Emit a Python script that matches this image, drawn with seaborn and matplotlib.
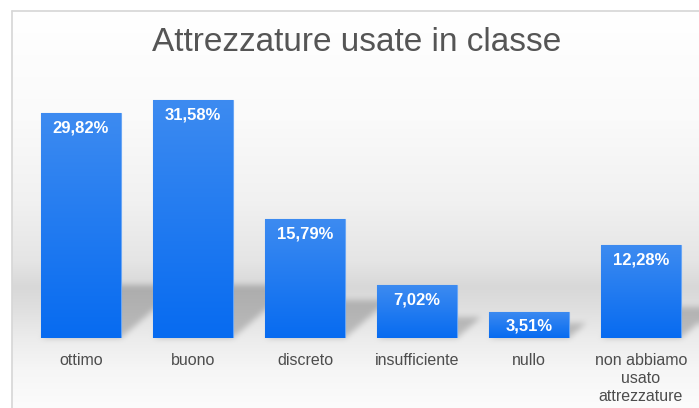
import numpy as np
import matplotlib
matplotlib.use("Agg")
import matplotlib.pyplot as plt
from matplotlib.path import Path
from matplotlib.colors import LinearSegmentedColormap
import seaborn as sns

# ---- data ----
categories = ["ottimo", "buono", "discreto", "insufficiente", "nullo",
              "non abbiamo\nusato\nattrezzature"]
values = [29.82, 31.58, 15.79, 7.02, 3.51, 12.28]
value_labels = [f"{v:.2f}".replace(".", ",") + "%" for v in values]
title = "Attrezzature usate in classe"

# ---- style ----
sns.set_style("white")
plt.rcParams["font.family"] = ["Liberation Sans", "DejaVu Sans"]

W, H = 699, 408
fig = plt.figure(figsize=(W / 100, H / 100), dpi=100)
fig.patch.set_facecolor("white")

# background axes (whole figure, pixel coordinates)
bg_ax = fig.add_axes([0, 0, 1, 1], zorder=0)
bg_ax.set_axis_off()

# main axes
frame_left, frame_top = 12, 11
base_px = 338
ax = fig.add_axes([frame_left / W, (H - base_px) / H, (W - frame_left) / W, (base_px - frame_top) / H],
                  zorder=1)
ax.patch.set_alpha(0)

bar_w = 80 / 112
sns.barplot(x=categories, y=values, color="#2a7df0", width=bar_w, ax=ax,
            edgecolor="#6aa6f4", linewidth=0.8, zorder=2)

xlim = (-(81 - frame_left) / 112, (W - 81) / 112)
ylim = (0, (base_px - frame_top) / 7.536)

# gradient fill for bars
cmap = LinearSegmentedColormap.from_list("bar", ["#076bf0", "#3d8bf1"])
grad = np.linspace(0, 1, 256).reshape(-1, 1)
for p in ax.patches:
    x0, y0 = p.get_x(), p.get_y()
    w, h = p.get_width(), p.get_height()
    im = ax.imshow(grad, extent=[x0, x0 + w, y0, y0 + h], origin="lower",
                   aspect="auto", cmap=cmap, zorder=2.5)
    im.set_clip_path(p)

ax.set_xlim(*xlim)
ax.set_ylim(*ylim)

# value labels
for i, (v, lbl) in enumerate(zip(values, value_labels)):
    ax.annotate(lbl, (i, v), xytext=(0, -10.5), textcoords="offset points",
                ha="center", va="center", color="white", fontweight="bold",
                fontsize=12, zorder=5)

# category labels
ax.set_xticks(range(len(categories)))
ax.set_xticklabels(categories, fontsize=11.5, color="#4d4d4d", linespacing=1.22)
ax.tick_params(axis="x", length=0, pad=11)
ax.set_yticks([])
for s in ax.spines.values():
    s.set_visible(False)
ax.set_xlabel("")
ax.set_ylabel("")

# ---- background image with gradient and bar shadows ----
rows = np.arange(H)
stops_y = [frame_top, 120, 200, 260, 287, 310, 338, 370, H]
stops_v = [255, 250, 241, 229, 216, 224, 236, 246, 252]
col = np.interp(rows, stops_y, stops_v)
img = np.repeat(col[:, None], W, axis=1).astype(float)

# shadow mask from bar geometry
yy, xx = np.mgrid[0:H, 0:W]
pts = np.column_stack([xx.ravel() + 0.5, yy.ravel() + 0.5])
mask = np.zeros(H * W)
fig.canvas.draw()
for p in ax.patches:
    (L, b_disp) = ax.transData.transform((p.get_x(), 0))
    (R, t_disp) = ax.transData.transform((p.get_x() + p.get_width(), p.get_height()))
    B = H - b_disp
    Tp = H - t_disp
    hpx = B - Tp
    T = min(0.25 * hpx + 8, 53)
    dx = 1.15 * T
    poly = Path([(L, B), (R, B), (R + dx, B - T), (L + dx, B - T), (L, B)])
    mask = np.maximum(mask, poly.contains_points(pts).astype(float))
mask = mask.reshape(H, W)


def box_blur(a, r, axis):
    a = np.moveaxis(a, axis, 0)
    pad = np.pad(a, ((r, r), (0, 0)), mode="edge")
    c = np.cumsum(pad, axis=0)
    c = np.vstack([np.zeros((1, c.shape[1])), c])
    out = (c[2 * r + 1:] - c[:-2 * r - 1]) / (2 * r + 1)
    return np.moveaxis(out, 0, axis)


for _ in range(2):
    mask = box_blur(mask, 3, 0)
    mask = box_blur(mask, 3, 1)
img = img * (1 - 0.2 * mask)

# outside the frame: white
img[:frame_top, :] = 255
img[:, :frame_left] = 255
rgb = np.clip(np.stack([img] * 3, axis=-1) / 255.0, 0, 1)
bg_ax.imshow(rgb, extent=(0, W, H, 0), aspect="auto", interpolation="bilinear")
bg_ax.plot([frame_left, W], [frame_top, frame_top], color="#d6d6d6", lw=1.2)
bg_ax.plot([frame_left, frame_left], [frame_top, H], color="#d6d6d6", lw=1.2)
bg_ax.set_xlim(0, W)
bg_ax.set_ylim(H, 0)

# title
fig.text(357 / W, 1 - 51 / H, title, ha="center", va="baseline",
         fontsize=24, color="#555555")

fig.savefig("out.png", dpi=100)
